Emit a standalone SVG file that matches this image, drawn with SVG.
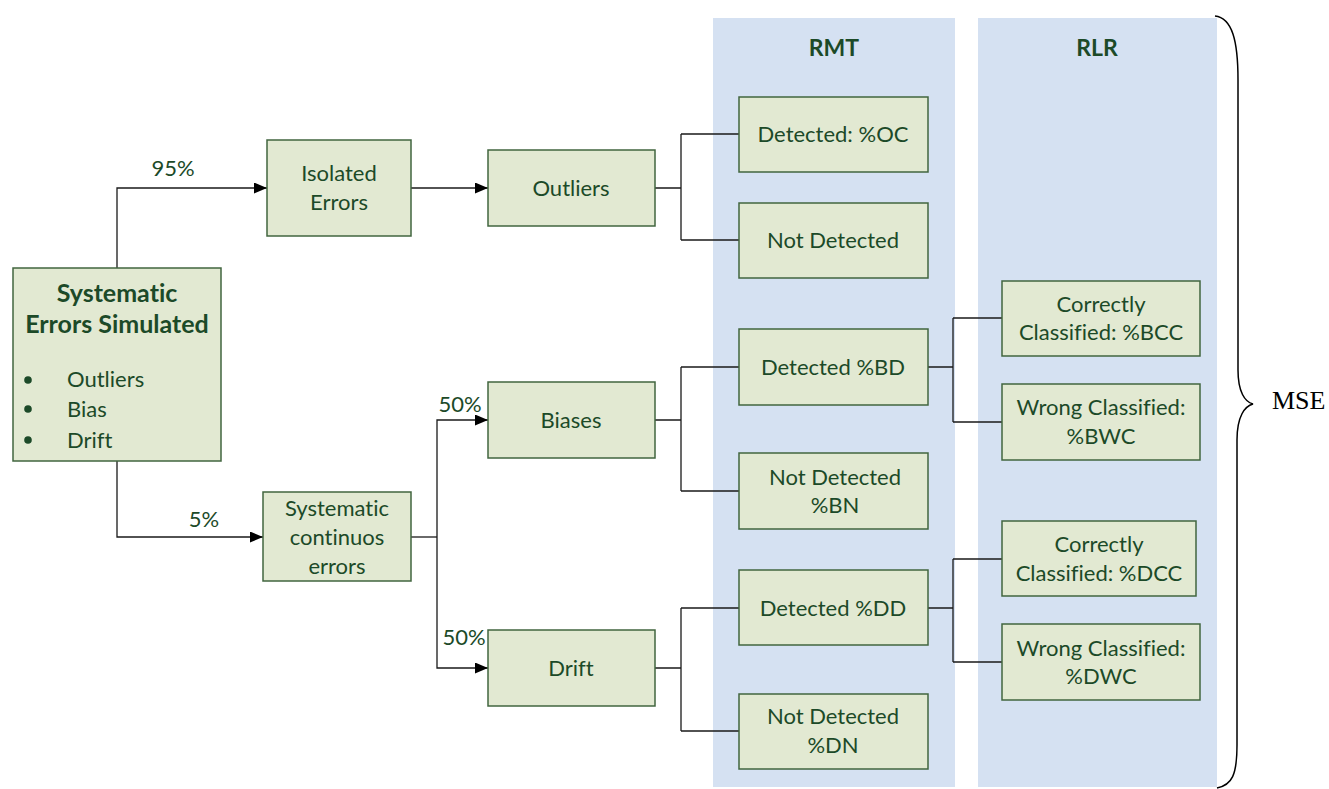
<svg xmlns="http://www.w3.org/2000/svg" width="1329" height="789" viewBox="0 0 1329 789">
<style>
.panel{fill:#d5e1f2;stroke:none}
.box{fill:#e2e9d2;stroke:#41653f;stroke-width:1.5}
.t{font-family:Lato,"Liberation Sans",sans-serif;font-size:22px;fill:#1c4a28;text-anchor:middle;font-variant-ligatures:none}
.b{font-weight:bold}
.ttl{font-size:25px}
.ph{font-size:23px}
.tl{text-anchor:start}
.c{fill:none;stroke:#1a1a1a;stroke-width:1.3}
.msetxt{font-family:"Liberation Serif",serif;font-size:26px;fill:#000}
</style>
<defs>
<marker id="ah" markerWidth="13" markerHeight="11" refX="13" refY="5.5" orient="auto" markerUnits="userSpaceOnUse">
<path d="M0,0 L13,5.5 L0,11 Z" fill="#000"/>
</marker>
</defs>
<rect width="1329" height="789" fill="#fff"/>
<g id="panel-rmt"><rect class="panel" x="713" y="18" width="242" height="769"/><text class="t b ph" x="834" y="56">RMT</text></g>
<g id="panel-rlr"><rect class="panel" x="978" y="18" width="239" height="769"/><text class="t b ph" x="1097" y="56">RLR</text></g>
<g id="connectors">
<path class="c" d="M117,268 V188 H267" marker-end="url(#ah)"/>
<path class="c" d="M117,461 V537 H263" marker-end="url(#ah)"/>
<path class="c" d="M411,188 H488" marker-end="url(#ah)"/>
<path class="c" d="M411,537 H437"/>
<path class="c" d="M437,537 V420 H488" marker-end="url(#ah)"/>
<path class="c" d="M437,537 V668 H488" marker-end="url(#ah)"/>
<path class="c" d="M655,188 H681 M681,134 V240 M681,134 H739 M681,240 H739"/>
<path class="c" d="M655,420 H681 M681,367 V491 M681,367 H739 M681,491 H739"/>
<path class="c" d="M655,668 H681 M681,608 V731 M681,608 H739 M681,731 H739"/>
<path class="c" d="M927,367 H953 M953,318 V422 M953,318 H1002 M953,422 H1002"/>
<path class="c" d="M927,608 H953 M953,559 V662 M953,559 H1002 M953,662 H1002"/>
<text class="t" x="173" y="176">95%</text>
<text class="t" x="204" y="527">5%</text>
<text class="t" x="460" y="412">50%</text>
<text class="t" x="464" y="645">50%</text>
</g>
<g id="node-main"><rect class="box" x="13" y="268" width="208" height="193"/>
<text class="t b ttl" x="117" y="302">Systematic</text>
<text class="t b ttl" x="117" y="333">Errors Simulated</text>
<circle cx="28" cy="380" r="3.8" fill="#1c4a28"/><text class="t tl" x="67" y="387">Outliers</text>
<circle cx="28" cy="409" r="3.8" fill="#1c4a28"/><text class="t tl" x="67" y="417">Bias</text>
<circle cx="28" cy="440" r="3.8" fill="#1c4a28"/><text class="t tl" x="67" y="448">Drift</text>
</g>
<g id="node-isolated"><rect class="box" x="267" y="140" width="144" height="96"/><text class="t" x="339" y="181">Isolated</text><text class="t" x="339" y="210">Errors</text></g>
<g id="node-syscont"><rect class="box" x="263" y="492" width="148" height="89"/><text class="t" x="337" y="516">Systematic</text><text class="t" x="337" y="545">continuos</text><text class="t" x="337" y="574">errors</text></g>
<g id="node-outliers"><rect class="box" x="488" y="150" width="167" height="76"/><text class="t" x="571" y="196">Outliers</text></g>
<g id="node-biases"><rect class="box" x="488" y="382" width="167" height="76"/><text class="t" x="571" y="428">Biases</text></g>
<g id="node-drift"><rect class="box" x="488" y="630" width="167" height="76"/><text class="t" x="571" y="676">Drift</text></g>
<g id="node-oc"><rect class="box" x="739" y="97" width="189" height="75"/><text class="t" x="833" y="142">Detected: %OC</text></g>
<g id="node-ond"><rect class="box" x="739" y="203" width="189" height="75"/><text class="t" x="833" y="248">Not Detected</text></g>
<g id="node-bd"><rect class="box" x="739" y="329" width="189" height="76"/><text class="t" x="833" y="375">Detected %BD</text></g>
<g id="node-bn"><rect class="box" x="739" y="453" width="189" height="76"/><text class="t" x="835" y="485">Not Detected</text><text class="t" x="835" y="513">%BN</text></g>
<g id="node-dd"><rect class="box" x="739" y="570" width="189" height="75"/><text class="t" x="833" y="616">Detected %DD</text></g>
<g id="node-dn"><rect class="box" x="739" y="694" width="189" height="75"/><text class="t" x="833" y="724">Not Detected</text><text class="t" x="833" y="753">%DN</text></g>
<g id="node-bcc"><rect class="box" x="1002" y="281" width="198" height="75"/><text class="t" x="1101" y="312">Correctly</text><text class="t" x="1101" y="340">Classified: %BCC</text></g>
<g id="node-bwc"><rect class="box" x="1002" y="384" width="198" height="76"/><text class="t" x="1101" y="415">Wrong Classified:</text><text class="t" x="1101" y="444">%BWC</text></g>
<g id="node-dcc"><rect class="box" x="1002" y="521" width="194" height="75"/><text class="t" x="1099" y="552">Correctly</text><text class="t" x="1099" y="581">Classified: %DCC</text></g>
<g id="node-dwc"><rect class="box" x="1002" y="624" width="198" height="76"/><text class="t" x="1101" y="656">Wrong Classified:</text><text class="t" x="1101" y="684">%DWC</text></g>
<g id="brace">
<path d="M1215,16 C1232,18 1238,40 1238,80 L1238,370 C1238,392 1245,402 1253,404 C1245,406 1237,416 1237,440 L1237,745 C1237,775 1232,785 1217,788" fill="none" stroke="#000" stroke-width="1.5"/>
<text class="msetxt" x="1272" y="409">MSE</text>
</g>
</svg>
